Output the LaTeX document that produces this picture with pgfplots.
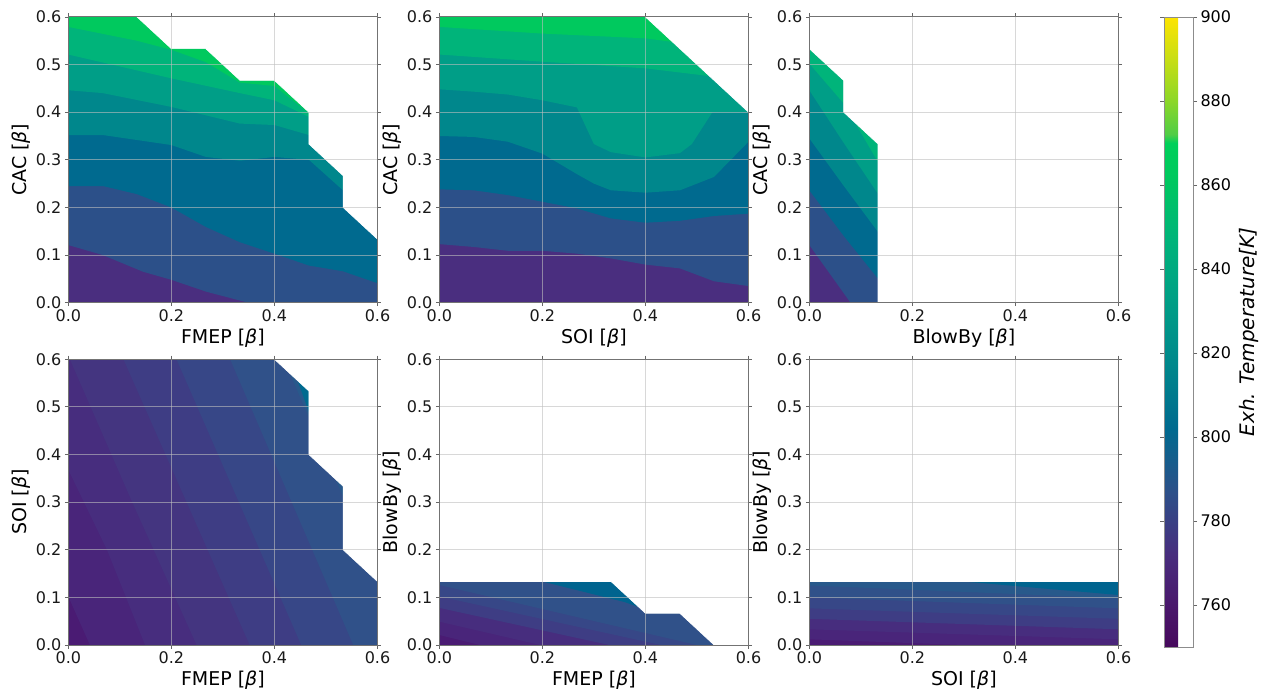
\documentclass[border=0pt]{standalone}
\usepackage{fontspec}
\setmainfont{DejaVu Sans}
\usepackage{pgfplots}
\pgfplotsset{compat=1.18}

% colours of the filled contour bands (viridis as rendered in the figure)
\definecolor{c1}{HTML}{4A2E7F}
\definecolor{c2}{HTML}{2C5089}
\definecolor{c3}{HTML}{006A8F}
\definecolor{c4}{HTML}{00878C}
\definecolor{c5}{HTML}{009E87}
\definecolor{c6}{HTML}{00B47A}
\definecolor{c7}{HTML}{00C95E}
\definecolor{d0}{HTML}{4A1B73}
\definecolor{d1}{HTML}{49257A}
\definecolor{d2}{HTML}{472D7E}
\definecolor{d3}{HTML}{443580}
\definecolor{d4}{HTML}{3E3D84}
\definecolor{d5}{HTML}{374787}
\definecolor{d6}{HTML}{305189}
\definecolor{d7}{HTML}{28598B}
\definecolor{d8}{HTML}{00648F}

\pgfplotsset{
  colormap={imgvir}{
    rgb255(0bp)=(70,8,92);
    rgb255(10bp)=(74,24,108);
    rgb255(22bp)=(72,45,126);
    rgb255(37bp)=(44,80,137);
    rgb255(52bp)=(0,106,143);
    rgb255(67bp)=(0,135,140);
    rgb255(82bp)=(0,158,134);
    rgb255(97bp)=(0,180,122);
    rgb255(112bp)=(0,201,94);
    rgb255(120bp)=(0,208,90);
    rgb255(122bp)=(80,205,70);
    rgb255(130bp)=(140,215,40);
    rgb255(140bp)=(200,222,20);
    rgb255(150bp)=(253,228,0)
  },
  panel/.style={
    scale only axis, width=309.2bp, height=285.8bp,
    xmin=0, xmax=0.6, ymin=0, ymax=0.6,
    xtick={0,0.2,0.4,0.6}, xticklabels={0.0,0.2,0.4,0.6},
    ytick={0,0.1,0.2,0.3,0.4,0.5,0.6},
    yticklabels={0.0,0.1,0.2,0.3,0.4,0.5,0.6},
    axis on top, grid=major,
    major grid style={draw=gray!50, line width=1bp, opacity=0.6},
    axis line style={draw=black!55, line width=0.9bp},
    tick align=outside, major tick length=3.5bp,
    tick style={draw=black!60, line width=0.8bp},
    tick label style={font=\fontsize{16bp}{19bp}\selectfont, text=black!90},
    label style={font=\fontsize{19bp}{23bp}\selectfont},
    xlabel style={at={(axis description cs:0.5,-0.1245)}, anchor=center},
    ylabel style={at={(axis description cs:-0.151,0.5)}, anchor=center},
  },
  band/.style={fill=#1, draw=none},
  mask/.style={fill=white, draw=white, line width=0.6bp},
}

\begin{document}
\begin{tikzpicture}
\useasboundingbox (0,0) rectangle (1267bp,-695bp);

% ---------------- panel 1: CAC vs FMEP
\begin{axis}[panel, at={(68.3bp,-302.7bp)}, anchor=south west,
  xlabel={FMEP [\textit{β}]}, ylabel={CAC [\textit{β}]}]
\addplot[band=c1] coordinates {(0,0) (0.6,0) (0.6,0.6) (0,0.6)} --cycle;
\addplot[band=c2] coordinates {(0,0.121) (0.067,0.10) (0.145,0.065) (0.2,0.048) (0.268,0.023) (0.349,0) (0.6,0) (0.6,0.6) (0,0.6)} --cycle;
\addplot[band=c3] coordinates {(0,0.245) (0.067,0.245) (0.133,0.228) (0.2,0.20) (0.267,0.159) (0.333,0.127) (0.4,0.103) (0.467,0.078) (0.533,0.066) (0.6,0.041) (0.6,0.6) (0,0.6)} --cycle;
\addplot[band=c4] coordinates {(0,0.352) (0.067,0.352) (0.2,0.331) (0.267,0.306) (0.333,0.298) (0.4,0.306) (0.467,0.30) (0.533,0.236) (0.6,0.2) (0.6,0.6) (0,0.6)} --cycle;
\addplot[band=c5] coordinates {(0,0.446) (0.067,0.44) (0.2,0.411) (0.333,0.376) (0.4,0.373) (0.467,0.352) (0.6,0.35) (0.6,0.6) (0,0.6)} --cycle;
\addplot[band=c6] coordinates {(0,0.521) (0.2,0.471) (0.333,0.44) (0.4,0.425) (0.467,0.39) (0.6,0.39) (0.6,0.6) (0,0.6)} --cycle;
\addplot[band=c7] coordinates {(0,0.579) (0.133,0.55) (0.2,0.531) (0.267,0.505) (0.333,0.462) (0.4,0.455) (0.467,0.398) (0.6,0.398) (0.6,0.6) (0,0.6)} --cycle;
\addplot[mask] coordinates {(0.1333,0.6) (0.2,0.5333) (0.2667,0.5333) (0.3333,0.4667) (0.4,0.4667) (0.4667,0.4) (0.4667,0.3333) (0.5333,0.2667) (0.5333,0.2) (0.6,0.1333) (0.6,0.6)} --cycle;
\end{axis}

% ---------------- panel 2: CAC vs SOI
\begin{axis}[panel, at={(439.3bp,-302.7bp)}, anchor=south west,
  xlabel={SOI [\textit{β}]}, ylabel={CAC [\textit{β}]}]
\addplot[band=c1] coordinates {(0,0) (0.6,0) (0.6,0.6) (0,0.6)} --cycle;
\addplot[band=c2] coordinates {(0,0.123) (0.067,0.117) (0.133,0.109) (0.2,0.109) (0.267,0.103) (0.333,0.093) (0.4,0.08) (0.467,0.072) (0.533,0.045) (0.6,0.035) (0.6,0.6) (0,0.6)} --cycle;
\addplot[band=c3] coordinates {(0,0.238) (0.067,0.236) (0.133,0.226) (0.2,0.212) (0.267,0.198) (0.333,0.177) (0.4,0.168) (0.467,0.172) (0.533,0.182) (0.6,0.187) (0.6,0.6) (0,0.6)} --cycle;
\addplot[band=c4] coordinates {(0,0.35) (0.067,0.348) (0.133,0.338) (0.2,0.313) (0.267,0.27) (0.3,0.25) (0.333,0.236) (0.4,0.231) (0.467,0.236) (0.533,0.264) (0.6,0.338) (0.6,0.6) (0,0.6)} --cycle;
\addplot[band=c5] coordinates {(0,0.448) (0.067,0.443) (0.133,0.437) (0.2,0.425) (0.267,0.41) (0.3,0.333) (0.333,0.316) (0.4,0.305) (0.467,0.314) (0.49,0.333) (0.53,0.4) (0.6,0.4) (0.6,0.6) (0,0.6)} --cycle;
\addplot[band=c6] coordinates {(0,0.521) (0.2,0.506) (0.4,0.492) (0.53,0.475) (0.6,0.47) (0.6,0.6) (0,0.6)} --cycle;
\addplot[band=c7] coordinates {(0,0.579) (0.2,0.565) (0.4,0.555) (0.47,0.545) (0.6,0.54) (0.6,0.6) (0,0.6)} --cycle;
\addplot[mask] coordinates {(0.4,0.6) (0.6,0.4) (0.6,0.6)} --cycle;
\end{axis}

% ---------------- panel 3: CAC vs BlowBy (with colour bar)
\begin{axis}[panel, at={(809.3bp,-302.7bp)}, anchor=south west,
  xlabel={BlowBy [\textit{β}]}, ylabel={CAC [\textit{β}]},
  colormap name=imgvir, point meta min=750, point meta max=900,
  colorbar,
  colorbar style={
    at={(parent axis.north east)}, anchor=north west, xshift=37bp,
    scale only axis, width=29bp, height=630bp,
    ymin=750, ymax=900,
    ytick={760,780,800,820,840,860,880,900},
    yticklabel pos=right,
    tick align=outside, major tick length=4bp,
    tick style={draw=black!60, line width=0.8bp},
    axis line style={draw=black!45, line width=0.8bp},
    tick label style={font=\fontsize{16bp}{19bp}\selectfont,
      /pgf/number format/assume math mode=true},
  }]
\addplot[band=c1] coordinates {(0,0) (0.6,0) (0.6,0.6) (0,0.6)} --cycle;
\addplot[band=c2] coordinates {(0,0.121) (0.08,0) (0.6,0) (0.6,0.6) (0,0.6)} --cycle;
\addplot[band=c3] coordinates {(0,0.236) (0.067,0.14) (0.133,0.051) (0.17,0) (0.6,0) (0.6,0.6) (0,0.6)} --cycle;
\addplot[band=c4] coordinates {(0,0.345) (0.067,0.245) (0.133,0.149) (0.2,0.05) (0.6,0.05) (0.6,0.6) (0,0.6)} --cycle;
\addplot[band=c5] coordinates {(0,0.446) (0.067,0.335) (0.133,0.229) (0.2,0.13) (0.6,0.13) (0.6,0.6) (0,0.6)} --cycle;
\addplot[band=c6] coordinates {(0,0.502) (0.067,0.418) (0.133,0.296) (0.2,0.2) (0.6,0.2) (0.6,0.6) (0,0.6)} --cycle;
\addplot[mask] coordinates {(0,0.5333) (0.0667,0.4667) (0.0667,0.4) (0.1333,0.3333) (0.1333,0) (0.6,0) (0.6,0.6) (0,0.6)} --cycle;
\end{axis}

% ---------------- panel 4: SOI vs FMEP
\begin{axis}[panel, at={(68.3bp,-645bp)}, anchor=south west,
  xlabel={FMEP [\textit{β}]}, ylabel={SOI [\textit{β}]}]
\addplot[band=d0] coordinates {(0,0) (0.6,0) (0.6,0.6) (0,0.6)} --cycle;
\addplot[band=d1] coordinates {(0,0.102) (0.042,0) (0.6,0) (0.6,0.6) (0,0.6)} --cycle;
\addplot[band=d2] coordinates {(0,0.368) (0.075,0.2) (0.149,0) (0.6,0) (0.6,0.6) (0,0.6)} --cycle;
\addplot[band=d3] coordinates {(0.003,0.6) (0.124,0.3) (0.249,0) (0.6,0) (0.6,0.6)} --cycle;
\addplot[band=d4] coordinates {(0.107,0.6) (0.352,0) (0.6,0) (0.6,0.6)} --cycle;
\addplot[band=d5] coordinates {(0.21,0.6) (0.452,0) (0.6,0) (0.6,0.6)} --cycle;
\addplot[band=d6] coordinates {(0.314,0.6) (0.553,0) (0.6,0) (0.6,0.6)} --cycle;
\addplot[band=d7] coordinates {(0.418,0.6) (0.6,0.145) (0.6,0.6)} --cycle;
\addplot[band=c3] coordinates {(0.43,0.6) (0.48,0.45) (0.6,0.45) (0.6,0.6)} --cycle;
\addplot[mask] coordinates {(0.4,0.6) (0.4667,0.5333) (0.4667,0.4) (0.5333,0.3333) (0.5333,0.2) (0.6,0.1333) (0.6,0.6)} --cycle;
\end{axis}

% ---------------- panel 5: BlowBy vs FMEP
\begin{axis}[panel, at={(439.3bp,-645bp)}, anchor=south west,
  xlabel={FMEP [\textit{β}]}, ylabel={BlowBy [\textit{β}]}]
\addplot[band=d0] coordinates {(0,0) (0.6,0) (0.6,0.6) (0,0.6)} --cycle;
\addplot[band=d1] coordinates {(0,0.021) (0.079,0) (0.6,0) (0.6,0.6) (0,0.6)} --cycle;
\addplot[band=d2] coordinates {(0,0.049) (0.196,0) (0.6,0) (0.6,0.6) (0,0.6)} --cycle;
\addplot[band=d4] coordinates {(0,0.078) (0.33,0) (0.6,0) (0.6,0.6) (0,0.6)} --cycle;
\addplot[band=d5] coordinates {(0,0.102) (0.43,0) (0.6,0) (0.6,0.6) (0,0.6)} --cycle;
\addplot[band=d6] coordinates {(0,0.126) (0.5,0) (0.6,0) (0.6,0.6) (0,0.6)} --cycle;
\addplot[band=d8] coordinates {(0.2,0.6) (0.2,0.1333) (0.36,0.09) (0.42,0.067) (0.6,0.067) (0.6,0.6)} --cycle;
\addplot[mask] coordinates {(0,0.1333) (0.3333,0.1333) (0.4,0.0667) (0.4667,0.0667) (0.5333,0) (0.6,0) (0.6,0.6) (0,0.6)} --cycle;
\end{axis}

% ---------------- panel 6: BlowBy vs SOI
\begin{axis}[panel, at={(809.3bp,-645bp)}, anchor=south west,
  xlabel={SOI [\textit{β}]}, ylabel={BlowBy [\textit{β}]}]
\addplot[band=d0] coordinates {(0,0) (0.6,0) (0.6,0.6) (0,0.6)} --cycle;
\addplot[band=d1] coordinates {(0,0.012) (0.3,0) (0.6,0) (0.6,0.6) (0,0.6)} --cycle;
\addplot[band=d2] coordinates {(0,0.033) (0.6,0.012) (0.6,0.6) (0,0.6)} --cycle;
\addplot[band=d4] coordinates {(0,0.055) (0.6,0.033) (0.6,0.6) (0,0.6)} --cycle;
\addplot[band=d5] coordinates {(0,0.077) (0.6,0.055) (0.6,0.6) (0,0.6)} --cycle;
\addplot[band=d6] coordinates {(0,0.1) (0.6,0.077) (0.6,0.6) (0,0.6)} --cycle;
\addplot[band=d7] coordinates {(0,0.125) (0.6,0.098) (0.6,0.6) (0,0.6)} --cycle;
\addplot[band=d8] coordinates {(0.3,0.6) (0.3,0.1333) (0.6,0.105) (0.6,0.6)} --cycle;
\addplot[mask] coordinates {(0,0.1333) (0.6,0.1333) (0.6,0.6) (0,0.6)} --cycle;
\end{axis}

\node[rotate=90, font=\fontsize{20bp}{24bp}\selectfont\itshape] at (1249bp,-332bp) {Exh. Temperature[K]};
\end{tikzpicture}
\end{document}
